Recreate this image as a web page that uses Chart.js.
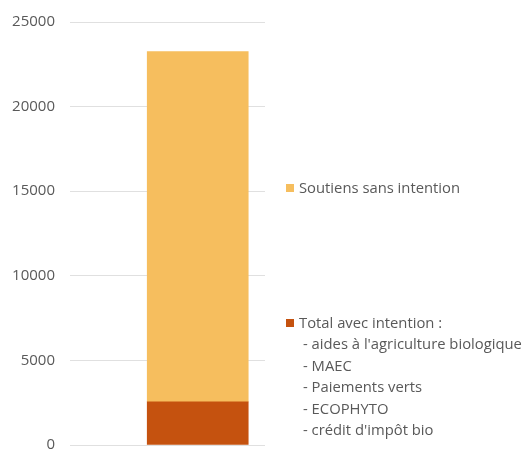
<!DOCTYPE html>
<html>
<head>
<meta charset="utf-8">
<script src="https://cdn.jsdelivr.net/npm/chart.js@4.4.1/dist/chart.umd.min.js"></script>
<style>
  html, body { margin: 0; padding: 0; background: #fff; }
  #wrap { position: relative; width: 531px; height: 450px; }
  #legend { position: absolute; left: 0; top: 0; font-family: "Open Sans", sans-serif; font-size: 14.8px; color: #595959; }
  .item { position: absolute; white-space: nowrap; line-height: 21.5px; }
  .sw { display: inline-block; width: 8px; height: 8px; margin-right: 5px; vertical-align: 1px; }
</style>
</head>
<body>
<div id="wrap">
  <canvas id="chart" width="531" height="450"></canvas>
  <div id="legend"></div>
</div>
<script>
// values
const seriesNames = ['Total avec intention :', 'Soutiens sans intention'];
const withIntention = [2550];
const withoutIntention = [20700];
const barPosition = [0.655];
const detailLines = [
  "- aides à l'agriculture biologique",
  '- MAEC',
  '- Paiements verts',
  '- ECOPHYTO',
  "- crédit d'impôt bio"
];
const yTicks = [0, 5000, 10000, 15000, 20000, 25000];

const colors = ['#c5520f', '#f6be5e'];

const ctx = document.getElementById('chart').getContext('2d');
const chart = new Chart(ctx, {
  type: 'bar',
  data: {
    datasets: [
      {
        label: seriesNames[0],
        data: withIntention.map((v, i) => ({ x: barPosition[i], y: v })),
        backgroundColor: colors[0],
        barThickness: 101
      },
      {
        label: seriesNames[1],
        data: withoutIntention.map((v, i) => ({ x: barPosition[i], y: v })),
        backgroundColor: colors[1],
        barThickness: 101
      }
    ]
  },
  options: {
    responsive: false,
    animation: false,
    layout: { padding: { top: 22, right: 266, bottom: 5, left: 0 } },
    plugins: { legend: { display: false }, tooltip: { enabled: false } },
    scales: {
      x: {
        type: 'linear',
        min: 0,
        max: 1,
        stacked: true,
        offset: false,
        display: false
      },
      y: {
        stacked: true,
        min: 0,
        max: 25000,
        afterFit: (s) => {
          s.width = 70;
          // keep the tick padding from shrinking the plot vertically
          s.paddingTop = 0;
          s.paddingBottom = 0;
        },
        afterBuildTicks: (s) => { s.ticks = yTicks.map((v) => ({ value: v })); },
        border: { display: false },
        grid: { color: '#e0e0e0', drawTicks: false },
        ticks: {
          padding: 15,
          color: '#595959',
          font: { family: '"Open Sans", sans-serif', size: 15 },
          callback: (v) => String(v)
        }
      }
    }
  }
});

// legend laid out beside the bar, as in the original
const legend = document.getElementById('legend');
function addItem(top, color, text, sub) {
  const div = document.createElement('div');
  div.className = 'item';
  div.style.left = (sub ? 303 : 286) + 'px';
  div.style.top = top + 'px';
  if (color) {
    const sw = document.createElement('span');
    sw.className = 'sw';
    sw.style.background = color;
    div.appendChild(sw);
  }
  div.appendChild(document.createTextNode(text));
  legend.appendChild(div);
}
addItem(177, colors[1], seriesNames[1]);
addItem(312, colors[0], seriesNames[0]);
detailLines.forEach((t, i) => addItem(333 + i * 21.5, null, t, true));
</script>
</body>
</html>
